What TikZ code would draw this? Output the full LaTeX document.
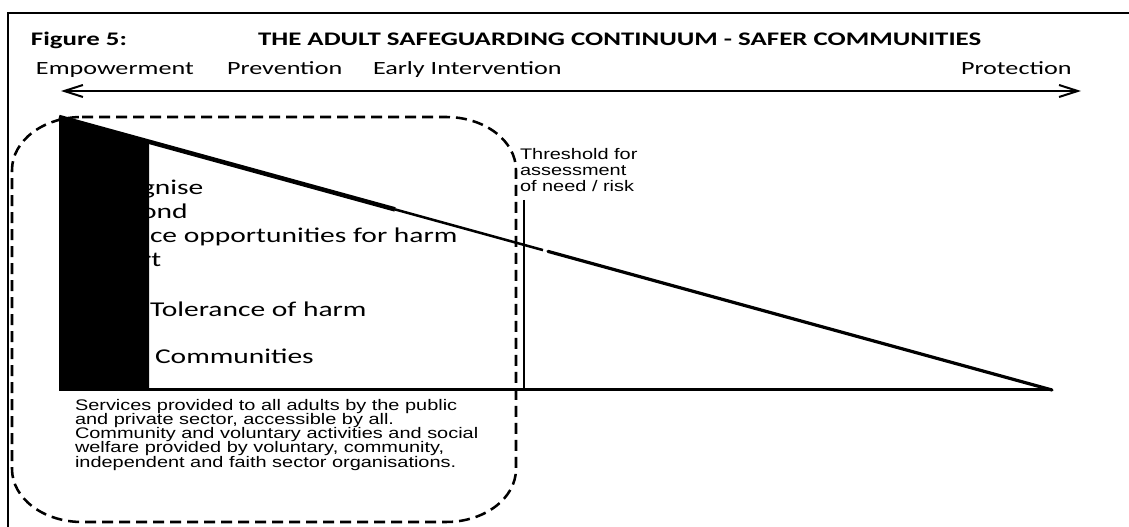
\documentclass[tikz,border=0pt]{standalone}
\usepackage{fontspec}
\usetikzlibrary{arrows.meta}
\newfontfamily\calfont[FakeStretch=1.4]{Carlito}
\newfontfamily\arfont[FakeStretch=1.3]{Liberation Sans}
\begin{document}
\begin{tikzpicture}[x=0.75pt,y=-0.75pt,
  txt/.style={anchor=base west,inner sep=0pt,outer sep=0pt},
  titletxt/.style={txt,font=\calfont\bfseries\fontsize{14.4pt}{17pt}\selectfont},
  labeltxt/.style={txt,font=\calfont\fontsize{14pt}{17pt}\selectfont},
  bigtxt/.style={txt,font=\calfont\fontsize{15.8pt}{18pt}\selectfont},
  smalltxt/.style={txt,font=\arfont\fontsize{11.5pt}{12pt}\selectfont},
  framestyle/.style={line width=1.5pt},
  dashbox/.style={line width=1.9pt,dash pattern=on 8.25pt off 4.5pt},
  scale arrow/.style={line width=1.5pt,{Straight Barb[length=14pt,width=9pt]}-{Straight Barb[length=14pt,width=9pt]}}
]
\fill[white] (0,0) rectangle (1129,527);
\useasboundingbox (0,0) rectangle (1129,527);

% frame
\draw[framestyle] (8,527) -- (8,13) -- (1129,13);

% titles
\node[titletxt] (fig) at (31,46) {Figure 5:};
\node[titletxt] (title) at (258,46) {THE ADULT SAFEGUARDING CONTINUUM - SAFER COMMUNITIES};

% continuum labels
\node[labeltxt] (emp) at (36,75) {Empowerment};
\node[labeltxt] (prev) at (227,75) {Prevention};
\node[labeltxt] (early) at (373,75) {Early Intervention};
\node[labeltxt] (prot) at (961,75) {Protection};

% continuum arrow
\coordinate (aL) at (61,91);
\coordinate (aR) at (1081,91);
\draw[scale arrow] (aL) -- (aR);

% big partially covered texts
\node[bigtxt] (t1) at (141,195) {gnise};
\node[bigtxt] (t2) at (141,219) {ond};
\node[bigtxt] (t3) at (150,243) {ce opportunities for harm};
\node[bigtxt] (t4) at (141,267) {rt};
\node[bigtxt] (t5) at (150,317) {Tolerance of harm};
\node[bigtxt] (t6) at (155,364) {Communities};

% triangle
\coordinate (apex) at (59,117);
\coordinate (bl) at (59,390);
\coordinate (br) at (1052,390);
\coordinate (barTop) at (149,141.7);
\coordinate (barBot) at (149,390);
\coordinate (s1) at (395,209.4);
\coordinate (s2) at (543,250.1);
\coordinate (s3) at (548,251.4);
\fill[black] (apex) -- (barTop) -- (barBot) -- (bl) -- cycle;
\draw[line width=3.4pt] (apex) -- (s1);
\draw[line width=1.9pt] (s1) -- (s2);
\draw[line width=2.4pt,line cap=round] (s3) -- (br);
\draw[line width=2.25pt] (bl) -- (br);

% threshold line and text
\coordinate (thTop) at (524,200);
\coordinate (thBot) at (524,390);
\draw[line width=0.9pt] (thTop) -- (thBot);
\node[smalltxt] (th1) at (520,160) {Threshold for};
\node[smalltxt] (th2) at (520,176) {assessment};
\node[smalltxt] (th3) at (520,192) {of need / risk};

% dashed rounded box
\draw[dashbox] (82,117) -- (446,117)
  .. controls (484.6,117) and (516,140.7) .. (516,170)
  -- (516,469)
  .. controls (516,498.3) and (484.6,522) .. (446,522)
  -- (82,522)
  .. controls (43.4,522) and (12,498.3) .. (12,469)
  -- (12,170)
  .. controls (12,140.7) and (43.4,117) .. (82,117) -- cycle;

% services text
\node[smalltxt] (sv1) at (75,411) {Services provided to all adults by the public};
\node[smalltxt] (sv2) at (75,425) {and private sector, accessible by all.};
\node[smalltxt] (sv3) at (75,439) {Community and voluntary activities and social};
\node[smalltxt] (sv4) at (75,453) {welfare provided by voluntary, community,};
\node[smalltxt] (sv5) at (75,467) {independent and faith sector organisations.};
\end{tikzpicture}
\end{document}
